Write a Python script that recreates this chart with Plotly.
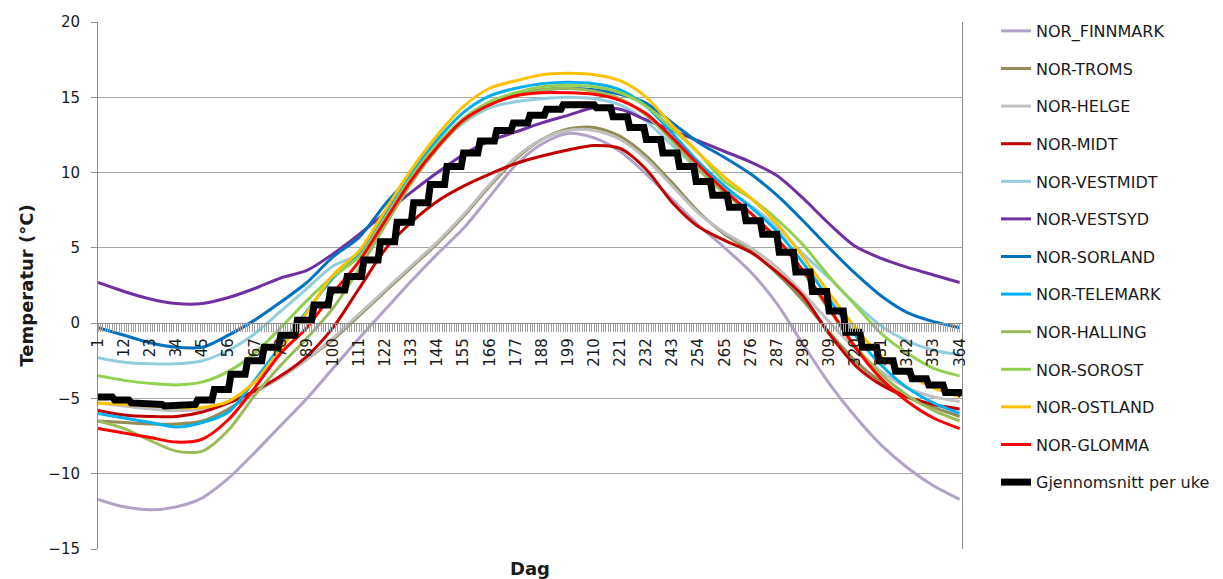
import plotly.graph_objects as go

# ---------------- data ----------------
DAYS = [1, 12, 23, 34, 45, 56, 67, 78, 89, 100, 111, 122, 133, 144, 155, 166, 177,
        188, 199, 210, 221, 232, 243, 254, 265, 276, 287, 298, 309, 320, 331, 342, 353, 364]
TICK_DAYS = [1, 12, 23, 34, 45, 56, 67, 78, 89, 100, 111, 122, 133, 144, 155, 166, 177,
             188, 199, 210, 221, 232, 243, 254, 265, 276, 287, 298, 309, 320, 331, 342, 353, 364]

NOR_FINNMARK = [-11.7, -12.2, -12.4, -12.2, -11.6, -10.3, -8.6, -6.8, -5.0, -3.0, -1.0, 0.9, 2.8,
                4.6, 6.3, 8.4, 10.5, 11.9, 12.6, 12.3, 11.4, 9.9, 8.2, 6.5, 5.0, 3.4, 1.3, -1.4,
                -4.0, -6.2, -8.1, -9.6, -10.8, -11.7]
NOR_TROMS = [-6.5, -6.6, -6.7, -6.7, -6.5, -5.7, -4.6, -3.6, -2.4, -1.1, 0.5, 2.1, 3.7, 5.3, 7.1,
             9.1, 10.9, 12.2, 12.9, 13.0, 12.4, 11.1, 9.3, 7.4, 5.9, 4.8, 3.3, 1.5, -0.6, -2.5,
             -3.9, -4.9, -5.6, -6.2]
NOR_HELGE = [-5.3, -5.5, -5.7, -5.8, -5.7, -5.3, -4.6, -3.6, -2.4, -1.0, 0.6, 2.2, 3.8, 5.4, 7.2,
             9.2, 11.0, 12.2, 12.8, 12.8, 12.2, 10.9, 9.1, 7.3, 6.0, 5.0, 3.7, 2.0, 0.1, -1.7,
             -3.2, -4.3, -4.9, -5.2]
NOR_MIDT = [-5.8, -6.1, -6.2, -6.2, -5.9, -5.3, -4.5, -3.5, -2.2, -0.3, 2.3, 4.9, 6.7, 8.1, 9.1,
            9.9, 10.6, 11.1, 11.5, 11.8, 11.6, 10.2, 8.0, 6.4, 5.5, 4.7, 3.4, 1.8, -0.7, -2.8,
            -4.1, -4.9, -5.4, -5.7]
NOR_VESTMIDT = [-2.3, -2.6, -2.7, -2.7, -2.5, -1.8, -0.7, 0.8, 2.3, 3.8, 4.6, 7.0, 9.5, 11.7,
                13.3, 14.3, 14.7, 14.9, 15.0, 14.9, 14.5, 13.4, 11.8, 10.2, 8.9, 7.8, 6.4, 4.6,
                3.0, 1.3, -0.2, -1.2, -1.8, -2.1]
NOR_VESTSYD = [2.7, 2.1, 1.6, 1.3, 1.3, 1.7, 2.3, 3.0, 3.5, 4.6, 5.9, 7.3, 8.7, 10.0, 11.2, 12.1,
               12.7, 13.3, 13.8, 14.3, 14.2, 13.5, 12.8, 12.1, 11.4, 10.7, 9.8, 8.3, 6.6, 5.1,
               4.3, 3.7, 3.2, 2.7]
NOR_SORLAND = [-0.3, -0.8, -1.3, -1.6, -1.6, -0.8, 0.2, 1.4, 2.7, 4.4, 5.7, 7.9, 9.8, 11.8, 13.5,
               14.6, 15.2, 15.5, 15.6, 15.5, 15.2, 14.6, 13.3, 12.0, 11.0, 9.9, 8.5, 6.8, 5.0,
               3.3, 1.8, 0.7, 0.1, -0.3]
NOR_TELEMARK = [-6.0, -6.3, -6.6, -6.9, -6.6, -5.9, -3.8, -1.5, 0.8, 3.0, 4.6, 7.3, 10.0, 12.2,
                14.0, 15.1, 15.6, 15.9, 16.0, 15.9, 15.5, 14.4, 12.6, 10.7, 9.1, 7.7, 6.1, 4.0,
                1.6, -0.8, -2.8, -4.3, -5.3, -6.0]
NOR_HALLING = [-6.5, -7.0, -7.8, -8.5, -8.5, -7.1, -4.8, -2.8, -1.0, 1.0, 3.6, 6.5, 9.3, 11.6,
               13.4, 14.5, 15.1, 15.5, 15.6, 15.4, 14.9, 13.8, 12.1, 10.2, 8.6, 7.3, 5.6, 3.4,
               0.9, -1.5, -3.4, -4.8, -5.8, -6.5]
NOR_SOROST = [-3.5, -3.8, -4.0, -4.1, -3.9, -3.2, -2.0, -0.3, 1.5, 3.1, 4.4, 7.0, 9.7, 11.9, 13.6,
              14.7, 15.3, 15.7, 15.8, 15.7, 15.3, 14.4, 12.9, 11.3, 9.4, 8.3, 6.9, 5.2, 3.1, 1.2,
              -0.7, -2.0, -3.0, -3.5]
NOR_OSTLAND = [-5.3, -5.4, -5.5, -5.6, -5.6, -5.2, -3.9, -1.7, 0.7, 3.2, 4.8, 7.5, 10.2, 12.5,
               14.4, 15.6, 16.1, 16.5, 16.6, 16.5, 16.1, 15.0, 13.1, 11.3, 9.7, 8.3, 6.6, 4.4,
               2.0, -0.3, -2.2, -3.4, -4.3, -4.9]
NOR_GLOMMA = [-7.0, -7.3, -7.6, -7.9, -7.7, -6.4, -4.3, -2.0, -0.3, 2.0, 4.1, 6.8, 9.5, 11.7,
              13.5, 14.5, 15.1, 15.3, 15.3, 15.2, 14.8, 13.9, 12.3, 10.5, 8.8, 7.3, 5.6, 3.5,
              1.0, -1.6, -3.7, -5.2, -6.3, -7.0]

# weekly average: first day of each week and its value
WEEK_START = [1, 8, 15, 22, 29, 36, 43, 50, 57, 64, 71, 78, 85, 92, 99, 106, 113, 120, 127, 134,
              141, 148, 155, 162, 169, 176, 183, 190, 197, 204, 211, 218, 225, 232, 239, 246, 253,
              260, 267, 274, 281, 288, 295, 302, 309, 316, 323, 330, 337, 344, 351, 358, 365]
WEEK_MEAN = [-4.9, -5.1, -5.3, -5.4, -5.5, -5.4, -5.1, -4.4, -3.4, -2.5, -1.6, -0.8, 0.2, 1.2,
             2.2, 3.1, 4.2, 5.4, 6.7, 8.0, 9.2, 10.4, 11.3, 12.1, 12.8, 13.3, 13.8, 14.2, 14.5,
             14.5, 14.3, 13.7, 13.0, 12.2, 11.3, 10.4, 9.4, 8.5, 7.7, 6.8, 5.9, 4.7, 3.4, 2.1,
             0.8, -0.6, -1.6, -2.5, -3.2, -3.7, -4.1, -4.6, -4.8]
LAST_DAY = 365

SERIES_NAMES = ["NOR_FINNMARK", "NOR-TROMS", "NOR-HELGE", "NOR-MIDT", "NOR-VESTMIDT",
                "NOR-VESTSYD", "NOR-SORLAND", "NOR-TELEMARK", "NOR-HALLING", "NOR-SOROST",
                "NOR-OSTLAND", "NOR-GLOMMA"]
SERIES_VALUES = [NOR_FINNMARK, NOR_TROMS, NOR_HELGE, NOR_MIDT, NOR_VESTMIDT, NOR_VESTSYD,
                 NOR_SORLAND, NOR_TELEMARK, NOR_HALLING, NOR_SOROST, NOR_OSTLAND, NOR_GLOMMA]
SERIES_COLORS = ["#B3A2C7", "#948A54", "#BFBFBF", "#C00000", "#93CDDD", "#7030A0",
                 "#0070C0", "#00B0F0", "#9BBB59", "#92D050", "#FFC000", "#FF0000"]
AVG_NAME = "Gjennomsnitt per uke"

# ---------------- figure ----------------
FONT = "DejaVu Sans"
TXT = "#1a1a1a"
fig = go.Figure()
for name, vals, col in zip(SERIES_NAMES, SERIES_VALUES, SERIES_COLORS):
    fig.add_trace(go.Scatter(
        x=DAYS, y=vals, name=name, legendgroup=name, mode="lines",
        line=dict(color=col, width=3, shape="spline", smoothing=0.8),
        hoverinfo="skip"))

# weekly value held constant over each week's days (first..last day of the week)
avg_x, avg_y = [], []
for s, v in zip(WEEK_START, WEEK_MEAN):
    avg_x += [s, min(s + 6, LAST_DAY)]
    avg_y += [v, v]
fig.add_trace(go.Scatter(
    x=avg_x, y=avg_y, name=AVG_NAME, legendgroup=AVG_NAME, mode="lines",
    line=dict(color="#000000", width=7), hoverinfo="skip"))

fig.update_layout(
    width=1223, height=579,
    margin=dict(l=98, r=261, t=22, b=30, autoexpand=False),
    paper_bgcolor="white", plot_bgcolor="white",
    font=dict(family=FONT, size=15, color=TXT),
    legend=dict(x=(996 - 98) / 864, y=(549 - 14) / 527, xanchor="left", yanchor="top",
                font=dict(family=FONT, size=16, color=TXT), maxheight=570,
                tracegroupgap=13.8, bgcolor="rgba(0,0,0,0)"),
    xaxis=dict(range=[1, 365], anchor="free", position=15 / 35,
               showline=True, linecolor="#8c8c8c", linewidth=1,
               tickmode="array", tickvals=TICK_DAYS, ticktext=[str(d) for d in TICK_DAYS],
               tickangle=-90, ticks="outside", ticklen=8, tickcolor="#a0a0a0",
               tickfont=dict(family=FONT, size=15, color=TXT),
               showgrid=False, zeroline=False,
               minor=dict(tickmode="linear", tick0=1, dtick=1, ticks="outside",
                          ticklen=8, tickcolor="#a0a0a0", showgrid=False)),
    yaxis=dict(range=[-15, 20], dtick=5, tick0=0,
               showline=True, linecolor="#8c8c8c", linewidth=1, mirror=True,
               ticks="outside", ticklen=6, tickcolor="#8c8c8c", ticklabelstandoff=8,
               showgrid=True, gridcolor="#a6a6a6", gridwidth=1, zeroline=False,
               tickfont=dict(family=FONT, size=15, color=TXT),
               title=dict(text="<b>Temperatur (°C)</b>", standoff=10,
                          font=dict(family=FONT, size=18, color=TXT))),
    annotations=[dict(text="<b>Dag</b>", xref="paper", yref="paper", x=0.5,
                      y=-(568 - 549) / 527, xanchor="center", yanchor="middle",
                      showarrow=False, font=dict(family=FONT, size=18, color=TXT))],
)

fig.write_html("out.html")
